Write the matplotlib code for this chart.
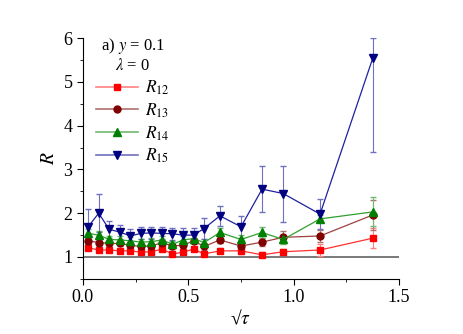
import matplotlib.pyplot as plt
from matplotlib.lines import Line2D
from matplotlib.ticker import MultipleLocator

x = [0.025, 0.075, 0.125, 0.175, 0.225, 0.275, 0.325, 0.375, 0.425, 0.475,
     0.525, 0.575, 0.65, 0.75, 0.85, 0.95, 1.125, 1.375]

r12 = [1.21, 1.16, 1.16, 1.14, 1.14, 1.11, 1.12, 1.18, 1.07, 1.11,
       1.18, 1.07, 1.14, 1.14, 1.05, 1.12, 1.16, 1.43]
r12_err = [0.06, 0.05, 0.05, 0.05, 0.05, 0.05, 0.05, 0.05, 0.05, 0.05,
           0.05, 0.05, 0.06, 0.07, 0.06, 0.06, 0.14, 0.23]

r13 = [1.37, 1.33, 1.31, 1.31, 1.27, 1.24, 1.25, 1.33, 1.25, 1.27,
       1.37, 1.24, 1.39, 1.25, 1.34, 1.45, 1.48, 1.96]
r13_err = [0.07, 0.06, 0.06, 0.06, 0.06, 0.06, 0.06, 0.06, 0.06, 0.06,
           0.06, 0.07, 0.08, 0.08, 0.1, 0.14, 0.14, 0.35]

r14 = [1.54, 1.50, 1.40, 1.39, 1.37, 1.34, 1.35, 1.39, 1.29, 1.39,
       1.42, 1.33, 1.56, 1.40, 1.56, 1.40, 1.87, 2.03]
r14_err = [0.1, 0.09, 0.08, 0.08, 0.08, 0.08, 0.08, 0.08, 0.08, 0.08,
           0.08, 0.09, 0.1, 0.1, 0.12, 0.1, 0.08, 0.33]

r15 = [1.69, 2.0, 1.63, 1.57, 1.48, 1.54, 1.55, 1.54, 1.53, 1.50,
       1.50, 1.65, 1.94, 1.69, 2.55, 2.45, 1.98, 5.54]
r15_lo = [0.4, 0.44, 0.2, 0.17, 0.15, 0.14, 0.14, 0.14, 0.14, 0.16,
          0.17, 0.24, 0.23, 0.25, 0.53, 0.65, 0.35, 2.15]
r15_hi = [0.4, 0.44, 0.2, 0.17, 0.15, 0.14, 0.14, 0.14, 0.14, 0.16,
          0.17, 0.24, 0.23, 0.25, 0.53, 0.63, 0.35, 0.46]

plt.rcParams['font.family'] = 'Liberation Serif'
plt.rcParams['mathtext.fontset'] = 'stix'

fig = plt.figure(figsize=(4.63, 3.34), dpi=100)
ax = fig.add_axes([0.179, 0.165, 0.683, 0.721])

ax.axhline(1, color='#555555', lw=1.1, zorder=1)

series = [
    (r12, [r12_err, r12_err], 's', 5, '#ff0000', '#ff3030', '#ff8080', r'$R_{12}$'),
    (r13, [r13_err, r13_err], 'o', 5, '#800000', '#a04040', '#b07070', r'$R_{13}$'),
    (r14, [r14_err, r14_err], '^', 5.5, '#008000', '#30a030', '#70b870', r'$R_{14}$'),
    (r15, [r15_lo, r15_hi], 'v', 6, '#000080', '#2020a0', '#7070c0', r'$R_{15}$'),
]
handles = []
for vals, err, mk, ms, mc, lc, ec, lab in series:
    ax.errorbar(x, vals, yerr=err, fmt='-', marker=mk, ms=ms, color=lc,
                mfc=mc, mec=mc, lw=0.9, elinewidth=0.8, capsize=2.5,
                ecolor=ec)
    handles.append(Line2D([], [], color=ec, lw=1.2, marker=mk, ms=ms,
                          mfc=mc, mec=mc, label=lab))

ax.set_xlim(0, 1.5)
ax.set_ylim(0.5, 6)
ax.xaxis.set_major_locator(MultipleLocator(0.5))
ax.xaxis.set_minor_locator(MultipleLocator(0.25))
ax.yaxis.set_major_locator(MultipleLocator(1))
ax.yaxis.set_minor_locator(MultipleLocator(0.5))
ax.tick_params(which='both', direction='out', labelsize=13)
ax.tick_params(which='major', length=4)
ax.tick_params(which='minor', length=2.5)
for s in ['top', 'right']:
    ax.spines[s].set_visible(False)

ax.set_xlabel('√$\\tau$', fontsize=14, labelpad=2)
ax.set_ylabel(r'$R$', fontsize=14)

leg = ax.legend(handles=handles, title='a) $y$ = 0.1\n$\\lambda$ = 0',
                loc='upper left', bbox_to_anchor=(0.025, 1.03),
                frameon=False, fontsize=12.5, title_fontsize=12,
                handlelength=2.4, labelspacing=0.25, borderaxespad=0.0,
                borderpad=0.3, handletextpad=0.4)
leg.get_title().set_multialignment('center')

fig.savefig('out.png', dpi=100)
